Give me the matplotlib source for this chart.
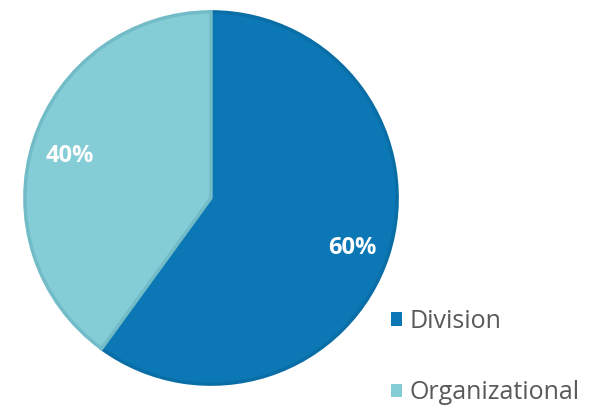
import matplotlib
matplotlib.use("Agg")
import matplotlib.pyplot as plt

# data
labels = ["Division", "Organizational"]
shares = [60, 40]
colors = ["#0b77b5", "#84ccd6"]
edges = ["#0a6ea6", "#72bcc8"]

plt.rcParams['font.family'] = ['Open Sans', 'DejaVu Sans']

fig = plt.figure(figsize=(5.96, 4.11), dpi=100)
ax = fig.add_axes([23 / 596, 25 / 411, 376 / 596, 376 / 411])

wedges, texts, autotexts = ax.pie(
    shares, colors=colors, startangle=90, counterclock=False,
    autopct="%d%%", pctdistance=0.80, radius=1.0,
    wedgeprops=dict(linewidth=2.5),
    textprops=dict(color="white", fontsize=17, fontweight="bold"))
for w, ec in zip(wedges, edges):
    w.set_edgecolor(ec)
# nudge the percentages down a little
for t in autotexts:
    x, y = t.get_position()
    t.set_position((x, y - 0.022))
ax.set_xlim(-1.01, 1.01)
ax.set_ylim(-1.01, 1.01)
ax.set_aspect("equal")
ax.axis("off")

leg = fig.legend(wedges, labels, loc="upper left",
                 bbox_to_anchor=(391 / 596, 1 - 309 / 411),
                 frameon=False, fontsize=18, labelcolor="#595959",
                 borderpad=0, borderaxespad=0,
                 handlelength=0.45, handleheight=0.45, handletextpad=0.28,
                 labelspacing=1.85)
for h in leg.legend_handles:
    h.set_linewidth(0)

fig.savefig("out.png", dpi=100)
